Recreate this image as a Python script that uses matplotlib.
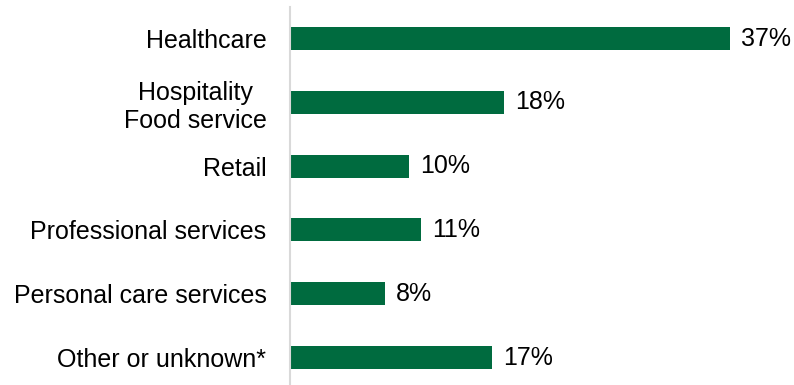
import matplotlib.pyplot as plt

plt.rcParams["font.family"] = ["Liberation Sans", "DejaVu Sans"]

categories = ["Healthcare", "Hospitality\nFood service", "Retail",
              "Professional services", "Personal care services", "Other or unknown*"]
shares = [37, 18, 10, 11, 8, 17]

GREEN = "#006b3f"

fig = plt.figure(figsize=(7.94, 3.85), dpi=100)
ax = fig.add_axes([290 / 794, 0, 504 / 794, 378.4 / 385])

y = list(range(len(categories)))
ax.barh(y, shares, height=0.36, color=GREEN)

# value labels just past the bar ends
for yi, v in zip(y, shares):
    ax.annotate(f"{v}%", xy=(v, yi), xytext=(8, 0), textcoords="offset points",
                ha="left", va="center", fontsize=18, color="black")

ax.set_xlim(0, 504 / 11.9)
ax.set_ylim(5.43, -0.5)
ax.set_yticks(y)
ax.set_yticklabels(categories, fontsize=18, color="black")
for lbl in ax.get_yticklabels():
    lbl.set_multialignment("center")
ax.tick_params(axis="y", length=0, pad=17)
ax.set_xticks([])

for side in ["top", "right", "bottom"]:
    ax.spines[side].set_visible(False)
ax.spines["left"].set_color("#d9d9d9")
ax.spines["left"].set_linewidth(1.5)

fig.savefig("out.png", dpi=100)
